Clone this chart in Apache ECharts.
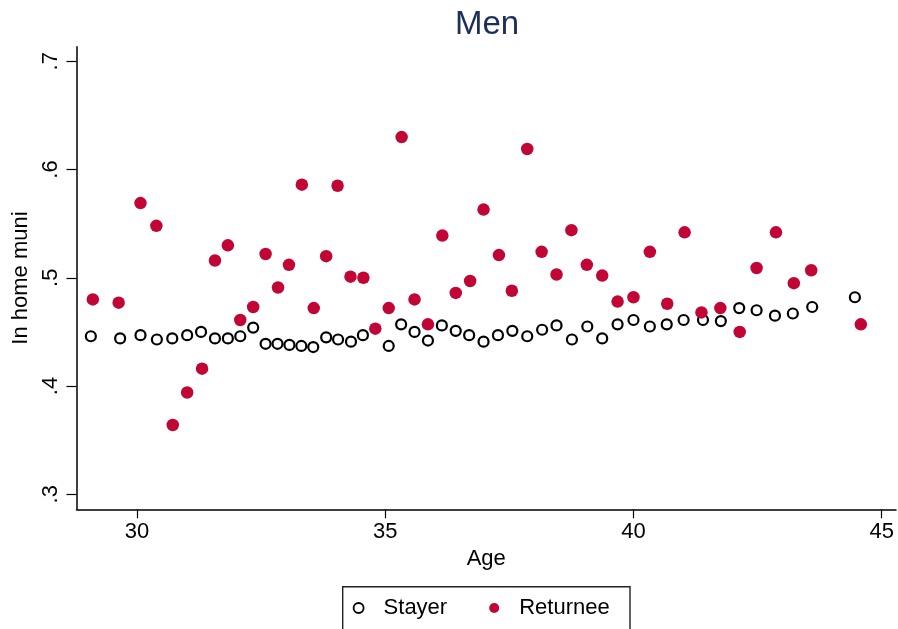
<!DOCTYPE html>
<html>
<head>
<meta charset="utf-8">
<script src="https://cdn.jsdelivr.net/npm/echarts@6/dist/echarts.min.js"></script>
<style>
  html, body { margin: 0; padding: 0; background: #fff; }
  #chart { width: 898px; height: 629px; }
</style>
</head>
<body>
<div id="chart"></div>
<script>
// binned means by age
var stayerAge = [29.07, 29.66, 30.07, 30.40, 30.71, 31.01, 31.29, 31.57, 31.83, 32.08,
  32.34, 32.59, 32.83, 33.07, 33.31, 33.55, 33.81, 34.05, 34.31, 34.55,
  35.07, 35.32, 35.59, 35.86, 36.14, 36.42, 36.69, 36.98, 37.27, 37.56,
  37.86, 38.16, 38.45, 38.76, 39.07, 39.37, 39.68, 40.00, 40.33, 40.67,
  41.01, 41.40, 41.76, 42.13, 42.48, 42.85, 43.21, 43.60, 44.46];
var stayerVal = [.446, .444, .447, .443, .444, .447, .450, .444, .444, .446,
  .454, .439, .439, .438, .437, .436, .445, .443, .441, .447,
  .437, .457, .450, .442, .456, .451, .447, .441, .447, .451,
  .446, .452, .456, .443, .455, .444, .457, .461, .455, .457,
  .461, .461, .460, .472, .470, .465, .467, .473, .482];

var returneeAge = [29.11, 29.63, 30.07, 30.39, 30.72, 31.01, 31.31, 31.57, 31.83, 32.08,
  32.34, 32.59, 32.84, 33.06, 33.32, 33.56, 33.81, 34.04, 34.30, 34.56,
  34.80, 35.07, 35.33, 35.59, 35.86, 36.15, 36.42, 36.71, 36.98, 37.29,
  37.55, 37.86, 38.15, 38.45, 38.75, 39.06, 39.37, 39.68, 40.00, 40.33,
  40.68, 41.03, 41.37, 41.75, 42.14, 42.48, 42.87, 43.23, 43.58, 44.58];
var returneeVal = [.480, .477, .569, .548, .364, .394, .416, .516, .530, .461,
  .473, .522, .491, .512, .586, .472, .520, .585, .501, .500,
  .453, .472, .630, .480, .457, .539, .486, .497, .563, .521,
  .488, .619, .524, .503, .544, .512, .502, .478, .482, .524,
  .476, .542, .468, .472, .450, .509, .542, .495, .507, .457];

var xTicks = [30, 35, 40, 45];
var yTicks = [0.3, 0.4, 0.5, 0.6, 0.7];
var yTickText = ['.3', '.4', '.5', '.6', '.7'];

function pairs(xs, ys) {
  var out = [];
  for (var i = 0; i < xs.length; i++) {
    out.push([xs[i], ys[i]]);
  }
  return out;
}

var font = "'Liberation Sans', Arial, sans-serif";
var myChart = echarts.init(document.getElementById('chart'), null, { renderer: 'canvas' });

var option = {
  backgroundColor: '#fff',
  animation: false,
  title: {
    text: 'Men',
    left: 482,
    top: 3,
    textAlign: 'center',
    textStyle: { fontFamily: font, fontSize: 33, fontWeight: 'normal', color: '#1c2f5a' }
  },
  grid: {
    left: 76.5,
    right: 2,
    top: 46.7,
    bottom: 119.7
  },
  legend: {
    left: 352.7,
    top: 597,
    padding: 0,
    itemWidth: 40,
    itemHeight: 10,
    itemGap: 42,
    textStyle: { fontFamily: font, fontSize: 22, color: '#000' },
    data: [
      { name: 'Stayer', itemStyle: { borderWidth: 1.8, opacity: 1 } },
      { name: 'Returnee', itemStyle: { opacity: 1 } }
    ]
  },
  graphic: [{
    type: 'rect',
    shape: { x: 342.7, y: 586.7, width: 287.3, height: 60 },
    style: { fill: 'none', stroke: '#222', lineWidth: 1.4 },
    silent: true
  }],
  xAxis: {
    type: 'value',
    min: 28.781,
    max: 45.288,
    name: 'Age',
    nameLocation: 'middle',
    nameGap: 36,
    nameTextStyle: { fontFamily: font, fontSize: 22, color: '#000' },
    splitLine: { show: false },
    axisLine: { show: true, onZero: false, lineStyle: { color: '#000', width: 1.5 } },
    axisTick: { show: true, length: 9, customValues: xTicks, lineStyle: { color: '#000', width: 1.2 } },
    axisLabel: {
      customValues: xTicks,
      margin: 12,
      fontFamily: font,
      fontSize: 22,
      color: '#000'
    }
  },
  yAxis: {
    type: 'value',
    min: 0.2861,
    max: 0.7135,
    name: 'In home muni',
    nameLocation: 'middle',
    nameGap: 44,
    nameTextStyle: { fontFamily: font, fontSize: 22, color: '#000' },
    splitLine: { show: false },
    axisLine: { show: true, onZero: false, lineStyle: { color: '#000', width: 1.5 } },
    axisTick: { show: true, length: 10, customValues: yTicks, lineStyle: { color: '#000', width: 1.2 } },
    axisLabel: {
      customValues: yTicks,
      rotate: 90,
      margin: 15,
      fontFamily: font,
      fontSize: 22,
      color: '#000',
      formatter: function (v) {
        for (var i = 0; i < yTicks.length; i++) {
          if (Math.abs(yTicks[i] - v) < 1e-6) return yTickText[i];
        }
        return '';
      }
    }
  },
  series: [{
    name: 'Stayer',
    type: 'scatter',
    symbol: 'circle',
    symbolSize: 10,
    itemStyle: { color: 'rgba(0,0,0,0)', borderColor: '#000', borderWidth: 2.2, opacity: 1 },
    data: pairs(stayerAge, stayerVal)
  }, {
    name: 'Returnee',
    type: 'scatter',
    symbol: 'circle',
    symbolSize: 12.5,
    itemStyle: { color: '#c10534', opacity: 1 },
    data: pairs(returneeAge, returneeVal)
  }]
};

myChart.setOption(option);
</script>
</body>
</html>
